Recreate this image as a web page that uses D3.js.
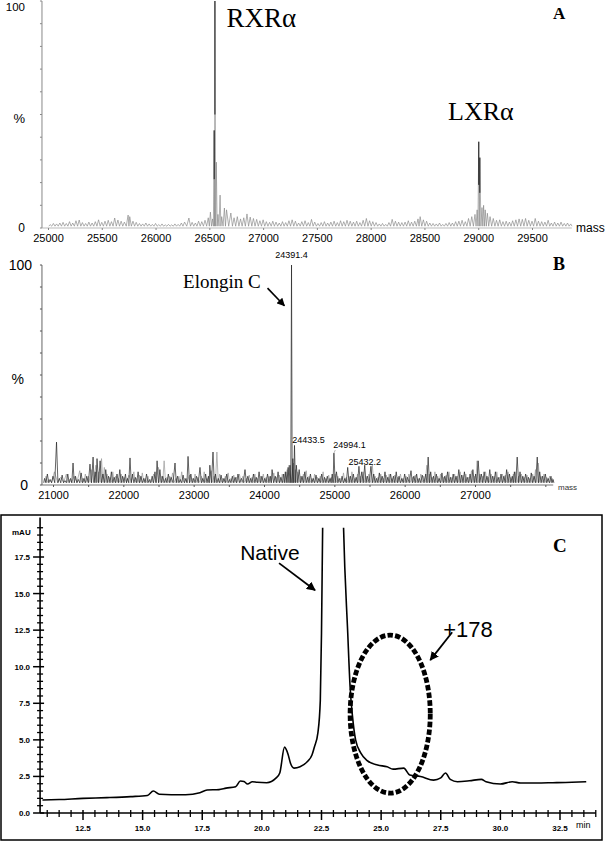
<!DOCTYPE html>
<html><head><meta charset="utf-8">
<script src="https://cdn.jsdelivr.net/npm/d3@7"></script>
<style>body{margin:0;background:#fff}svg{display:block}</style>
</head><body>
<svg id="chart" width="608" height="841"></svg>
<script>
// ---------- Panel A data (deconvoluted ESI-MS, RXRα / LXRα) ----------
const aMass = [25020,25050,25080,25110,25140,25170,25200,25230,25260,25290,25320,25350,25380,25410,25440,25470,25500,25530,25560,25590,25620,25650,25680,25710,25745,25760,25790,25820,25850,25880,25910,25940,25970,26000,26030,26060,26090,26120,26150,26180,26210,26240,26270,26310,26340,26370,26400,26430,26460,26490,26510,26530,26545,26552,26565,26580,26600,26615,26640,26660,26700,26730,26760,26790,26820,26850,26880,26910,26940,26970,27000,27030,27060,27090,27120,27150,27180,27210,27240,27270,27300,27330,27360,27390,27420,27450,27480,27510,27540,27570,27600,27630,27660,27690,27720,27750,27780,27810,27840,27870,27900,27930,27960,27990,28020,28050,28080,28110,28140,28170,28200,28230,28260,28290,28320,28350,28380,28410,28440,28460,28490,28520,28550,28580,28610,28640,28670,28700,28730,28760,28790,28820,28850,28880,28910,28940,28970,28990,29005,29015,29035,29050,29065,29085,29110,29140,29170,29200,29230,29260,29290,29320,29350,29380,29410,29440,29470,29500,29530,29560,29590,29620,29650,29680,29710,29740,29770,29800,29830,29860];
const aInt  = [1.5,2,1.8,2.2,2.5,2,2.8,2.2,3.2,3.5,2.4,2.0,2.6,2.2,2.8,3.6,2.5,3.0,3.4,2.8,4.4,3.5,3.0,2.6,5.7,5.0,3.0,2.5,2.0,1.8,2.2,1.8,1.6,2.0,1.5,1.8,1.4,1.6,1.4,1.8,1.6,2.2,2.6,4.4,2.5,2.2,3.0,2.8,3.4,4.5,7.0,4.0,43,100,29,6,14.5,5,8.8,8,6.6,4.5,5.0,4.0,4.5,6.2,4.8,4.2,3.8,3.2,3.6,2.8,2.5,3.0,2.6,2.2,2.8,2.4,3.2,3.6,3.0,2.2,2.8,3.2,2.4,3.8,2.6,2.0,2.4,2.8,2.2,2.6,3.0,2.4,3.2,2.8,3.4,3.0,2.6,3.0,2.4,3.4,4.2,3.2,2.8,2.4,1.8,2.0,1.6,2.4,3.8,3.0,2.6,2.4,2.6,3.2,2.6,3.0,4.0,5.0,3.6,3.0,2.2,2.0,1.8,2.2,1.6,2.0,2.4,2.2,2.8,3.0,3.4,2.8,4.2,5.0,6.0,8.0,38,31,9,10,8,6.5,5.0,4.2,3.4,3.6,2.8,3.0,2.6,3.2,3.6,4.0,3.8,4.2,3.4,3.0,4.2,3.0,2.8,2.6,3.4,2.2,2.6,2.2,2.6,2.0,2.2,1.8];
const aTicks = [25000,25500,26000,26500,27000,27500,28000,28500,29000,29500];
const aAxisRange = [24944, 29870];

// ---------- Panel B data (Elongin C) ----------
const bMass = [20880,20920,20960,21000,21050,21090,21130,21170,21210,21250,21285,21320,21360,21400,21440,21480,21526,21570,21600,21626,21670,21710,21750,21790,21830,21870,21910,21950,21990,22030,22060,22095,22130,22170,22210,22250,22290,22330,22370,22410,22450,22480,22520,22560,22600,22640,22680,22735,22770,22810,22850,22890,22920,22960,23000,23040,23090,23130,23170,23210,23230,23275,23310,23350,23390,23430,23470,23510,23550,23590,23630,23680,23730,23770,23810,23850,23890,23930,23970,24010,24050,24090,24115,24160,24200,24240,24280,24310,24343,24370,24391.4,24410,24433.5,24460,24500,24540,24580,24620,24660,24700,24740,24780,24820,24860,24900,24940,24970,24994.1,25030,25070,25110,25150,25190,25230,25270,25310,25350,25390,25432.2,25470,25520,25560,25600,25640,25680,25720,25760,25800,25840,25880,25920,25960,26000,26040,26090,26130,26170,26210,26250,26300,26334,26370,26410,26450,26490,26530,26570,26610,26650,26690,26730,26770,26810,26850,26890,26930,26970,27010,27045,27090,27130,27170,27210,27250,27290,27330,27370,27410,27450,27490,27530,27560,27600,27640,27680,27720,27760,27800,27840,27885,27920,27960,28000,28040,28080,28110];
const bInt  = [3,5,2.5,4,19.5,3,4.5,2,5,3,10,4,2.5,5.5,3,4,9.5,12.7,6,12,11,5,7,4,6,3.5,5,7,4,5,3,12.3,5,3.5,6,4,3,5,2.5,4,6,11,7,4,3,5,3.5,10,4,2.5,4.5,3,13,5,3,4,8,3,5,4,9,15,5,3,4.5,3,5,2.5,4,3.5,5,3,7,4,3,5,3.5,6,4,3,5,4,7,4,6,3.5,5,6,8,9,100,12,18,9,7,4,6,3.5,5,3,4.5,3,5,3.5,4,3,5,14.5,6,3,4,3,8,4,5,3.5,8.5,6,9,4,8.5,5,3,5.5,4,6,3.5,5,4,6,4,3,5,3.5,6.5,4,5,3,4.5,5,12.7,6,4,5,3,5.5,4,6,3.5,5,4,7,4.5,6,3.5,5,7,5,11,5,6,4,7,4,6,3.5,5,4,7,5,4,6,12.7,6,4,5,3.5,5.5,4,12.7,6,4,5,3,4,2.5];
// second (grey) trace overlaid in the reference
const bGray = [[20900,4],[20940,2.5],[21020,6],[21110,3.5],[21190,5],[21230,2.5],[21300,4],[21380,6.5],[21420,3],[21460,5],[21505,4],[21550,7],[21610,9],[21650,6],[21690,12],[21730,8],[21770,5],[21810,3.5],[21850,6],[21890,4],[21930,3],[21970,5],[22010,3.5],[22080,4.5],[22150,6],[22190,3],[22230,4.5],[22270,5.5],[22310,3],[22350,4],[22390,2.5],[22430,5],[22500,8],[22540,4],[22580,11],[22620,3.5],[22660,4],[22700,5.5],[22750,3],[22790,4],[22830,6],[22870,3],[22940,4.5],[22980,3],[23020,5],[23060,3.5],[23110,4],[23150,6],[23190,3],[23250,6.5],[23290,4],[23330,15],[23370,5],[23410,3],[23450,4],[23490,5.5],[23530,3],[23570,4.5],[23610,3.5],[23650,5],[23700,4],[23750,3],[23790,4.5],[23830,3.5],[23870,5],[23910,3],[23950,4],[23990,5],[24030,3.5],[24070,4],[24140,5.5],[24180,3.5],[24220,4.5],[24260,5],[24300,6],[24330,7],[24355,9],[24420,10],[24445,7],[24480,6],[24520,4],[24560,5],[24600,6.5],[24640,4],[24680,3],[24720,5],[24760,3.5],[24800,4],[24840,6],[24880,3],[24920,4.5],[24955,3.5],[25010,5],[25050,4],[25090,3],[25130,5.5],[25170,3.5],[25210,4],[25250,6],[25290,3],[25330,5],[25370,4],[25410,6],[25450,4],[25490,5],[25540,9],[25580,4],[25620,3.5],[25660,5],[25700,3],[25740,4.5],[25780,5],[25820,3],[25860,4.5],[25900,3.5],[25940,5],[25980,3],[26020,4],[26060,5],[26110,3.5],[26150,4.5],[26190,3],[26230,5],[26270,4],[26315,9],[26350,5],[26390,3.5],[26430,6],[26470,4],[26510,5],[26550,3.5],[26590,4.5],[26630,6],[26670,3.5],[26710,5],[26750,4],[26790,6],[26830,4.5],[26870,5],[26910,3.5],[26950,6.5],[26990,4],[27030,11],[27070,5],[27110,4],[27150,6],[27190,3.5],[27230,5],[27270,4],[27310,6],[27350,3.5],[27390,5],[27430,4.5],[27470,6],[27510,3.5],[27545,5],[27580,6],[27620,4],[27660,5],[27700,3.5],[27740,4.5],[27780,3],[27820,5],[27860,7],[27900,10],[27940,4],[27980,5],[28020,3.5],[28060,4],[28100,3]];
const bTicks = [21000,22000,23000,24000,25000,26000,27000];
const bAxisRange = [20843, 28112];
const bPeakLabels = [
  {mass:24391.4, text:"24391.4", lx:24391.4, ly:103, anchor:"middle"},
  {mass:24433.5, text:"24433.5", lx:24400, ly:19, anchor:"start"},
  {mass:24994.1, text:"24994.1", lx:24985, ly:16.8, anchor:"start"},
  {mass:25432.2, text:"25432.2", lx:25200, ly:9, anchor:"start"}
];

// ---------- Panel C data (HPLC trace) ----------
const cTime = [10.8,11.5,12.5,13.5,14.5,15.2,15.45,15.7,16.2,16.8,17.4,17.7,18.2,18.5,18.9,19.1,19.25,19.4,19.6,19.8,20.2,20.6,20.75,20.95,21.1,21.2,21.35,21.6,21.9,22.1,22.2,22.35,22.45,22.5,22.55,22.7,23.0,23.3,23.42,23.6,23.7,23.8,23.93,24.15,24.4,24.85,25.25,25.5,25.95,26.2,26.65,27.2,27.5,27.7,27.9,28.2,28.7,29.2,29.4,30.0,30.5,30.85,31.5,32.2,33.0,33.6];
const cAbs  = [0.89,0.92,1.0,1.05,1.12,1.2,1.5,1.28,1.25,1.25,1.39,1.57,1.6,1.7,1.8,2.19,2.15,1.98,2.14,2.1,2.07,2.4,2.73,4.5,4.0,3.4,3.07,3.16,3.5,3.96,4.5,5.5,7.7,12.3,19.8,30,40,30,19.8,12.3,8.6,6.6,5.0,4.1,3.6,3.28,3.16,3.0,3.07,2.6,2.5,2.25,2.4,2.73,2.3,2.14,2.2,2.3,2.14,1.98,2.14,2.05,2.05,2.07,2.1,2.14];
const cXTicks = [12.5,15.0,17.5,20.0,22.5,25.0,27.5,30.0,32.5];
const cYTicks = [0.0,2.5,5.0,7.5,10.0,12.5,15.0,17.5];
const cXRange = [10.7, 34.0];
const cYRange = [0, 20.2];
const cSaturation = 19.5;

// ---------- drawing ----------
const SANS = "'Liberation Sans', Arial, Helvetica, sans-serif";
const SERIF = "'Liberation Serif', 'Times New Roman', serif";
const svg = d3.select("#chart");

const defs = svg.append("defs");
defs.append("marker").attr("id","arr").attr("viewBox","0 0 10 10").attr("refX",9).attr("refY",5)
  .attr("markerWidth",5).attr("markerHeight",5).attr("orient","auto")
  .append("path").attr("d","M0,0 L10,5 L0,10 z").attr("fill","#000");

function profilePath(ms, hs, base, x, y) {
  const pts = [[ms[0]-12, base]];
  for (let i = 0; i < ms.length; i++) {
    pts.push([ms[i], hs[i]]);
    if (i < ms.length - 1) pts.push([(ms[i] + ms[i+1]) / 2, base]);
  }
  pts.push([ms[ms.length-1] + 12, base]);
  return d3.line().x(d => x(d[0])).y(d => y(d[1]))(pts);
}

// ===== Panel A =====
{
  const x = d3.scaleLinear().domain([25000, 29500]).range([48, 532]);
  const y = d3.scaleLinear().domain([0, 100]).range([228, 1]);
  const g = svg.append("g");
  const x0 = x(aAxisRange[0]);
  g.append("line").attr("x1",x0).attr("x2",x0).attr("y1",y(0)).attr("y2",y(100)).attr("stroke","#888").attr("stroke-width",1);
  g.selectAll(".yt").data(d3.range(0,101,10)).join("line")
    .attr("x1",x0-2).attr("x2",x0).attr("y1",d=>y(d)).attr("y2",d=>y(d)).attr("stroke","#888");
  g.append("line").attr("x1",x0).attr("x2",x(aAxisRange[1])).attr("y1",y(0)).attr("y2",y(0)).attr("stroke","#aaa").attr("stroke-width",0.8);
  const ax = g.append("g").attr("transform",`translate(0,${y(0)})`)
    .call(d3.axisBottom(x).tickValues(aTicks).tickSize(2).tickPadding(4).tickFormat(d3.format("d")));
  ax.select(".domain").remove();
  ax.selectAll("line").attr("stroke","#888");
  ax.selectAll("text").attr("font-family",SANS).attr("font-size",11).attr("fill","#000");
  g.append("path").attr("d",profilePath(aMass,aInt,0.8,x,y)).attr("fill","none").attr("stroke","#858585").attr("stroke-width",0.65);
  const major = aMass.map((m,i)=>({m,h:aInt[i]})).filter(d=>d.h>30);
  g.selectAll(".mp").data(major).join("line")
    .attr("x1",d=>x(d.m)).attr("x2",d=>x(d.m)).attr("y1",d=>y(d.h)).attr("y2",d=>y(d.h*0.5)).attr("stroke","#111").attr("stroke-width",0.9);
  g.append("text").attr("x",25).attr("y",11).attr("text-anchor","end").attr("font-family",SANS).attr("font-size",11.5).text("100");
  g.append("text").attr("x",25).attr("y",y(0)+4).attr("text-anchor","end").attr("font-family",SANS).attr("font-size",12).text("0");
  g.append("text").attr("x",25).attr("y",y(48)+4).attr("text-anchor","end").attr("font-family",SANS).attr("font-size",13).text("%");
  g.append("text").attr("x",576).attr("y",y(0)+4).attr("font-family",SANS).attr("font-size",12).text("mass");
  g.append("text").attr("x",x(26660)).attr("y",y(88.5)).attr("font-family",SERIF).attr("font-size",27).text("RXRα");
  g.append("text").attr("x",x(28720)).attr("y",y(47.5)).attr("font-family",SERIF).attr("font-size",26).text("LXRα");
  g.append("text").attr("x",553).attr("y",19).attr("font-family",SERIF).attr("font-weight","bold").attr("font-size",17).text("A");
}

// ===== Panel B =====
{
  const x = d3.scaleLinear().domain([21000, 27000]).range([53, 475]);
  const y = d3.scaleLinear().domain([0, 100]).range([485, 265]);
  const g = svg.append("g");
  const x0 = x(bAxisRange[0]);
  g.append("line").attr("x1",x0).attr("x2",x0).attr("y1",y(0)).attr("y2",y(100)).attr("stroke","#555").attr("stroke-width",0.9);
  g.selectAll(".yt").data(d3.range(0,101,10)).join("line")
    .attr("x1",x0-2).attr("x2",x0).attr("y1",d=>y(d)).attr("y2",d=>y(d)).attr("stroke","#555");
  g.append("line").attr("x1",x0).attr("x2",x(bAxisRange[1])).attr("y1",y(0)).attr("y2",y(0)).attr("stroke","#555").attr("stroke-width",0.8);
  const ax = g.append("g").attr("transform",`translate(0,${y(0)})`)
    .call(d3.axisBottom(x).tickValues(d3.range(21000,28001,500)).tickSize(2).tickPadding(4)
      .tickFormat(d => bTicks.includes(d) ? d3.format("d")(d) : ""));
  ax.select(".domain").remove();
  ax.selectAll("line").attr("stroke","#555");
  ax.selectAll("text").attr("font-family",SANS).attr("font-size",11).attr("fill","#000");
  g.append("path").attr("d",profilePath(bGray.map(d=>d[0]),bGray.map(d=>d[1]),1.2,x,y)).attr("fill","none").attr("stroke","#9a9a9a").attr("stroke-width",0.7);
  g.append("path").attr("d",profilePath(bMass,bInt,1.0,x,y)).attr("fill","none").attr("stroke","#222").attr("stroke-width",0.7);
  g.append("text").attr("x",32).attr("y",y(100)+5).attr("text-anchor","end").attr("font-family",SANS).attr("font-size",14).text("100");
  g.append("text").attr("x",28).attr("y",y(0)+5).attr("text-anchor","end").attr("font-family",SANS).attr("font-size",14).text("0");
  g.append("text").attr("x",24).attr("y",y(48)+5).attr("text-anchor","end").attr("font-family",SANS).attr("font-size",14).text("%");
  g.append("text").attr("x",558).attr("y",y(0)+5).attr("font-family",SANS).attr("font-size",8).attr("fill","#333").text("mass");
  g.selectAll(".pl").data(bPeakLabels).join("text")
    .attr("x",d=>x(d.lx)).attr("y",d=>y(d.ly)).attr("text-anchor",d=>d.anchor)
    .attr("font-family",SANS).attr("font-size",9).text(d=>d.text);
  const leaders = bPeakLabels.filter(d=>d.anchor==="start" && d.text!=="25432.2");
  g.selectAll(".ld").data(leaders).join("line")
    .attr("x1",d=>x(d.lx)+2).attr("y1",d=>y(d.ly)+2).attr("x2",d=>x(d.mass)).attr("y2",d=>y(bInt[bMass.indexOf(d.mass)]))
    .attr("stroke","#888").attr("stroke-width",0.6);
  g.append("text").attr("x",x(22850)).attr("y",y(89.5)).attr("font-family",SERIF).attr("font-size",19).text("Elongin C");
  g.append("line").attr("x1",x(24050)).attr("y1",y(89.5)).attr("x2",x(24290)).attr("y2",y(81.5))
    .attr("stroke","#000").attr("stroke-width",1.6).attr("marker-end","url(#arr)");
  g.append("text").attr("x",553).attr("y",270).attr("font-family",SERIF).attr("font-weight","bold").attr("font-size",18).text("B");
}

// ===== Panel C =====
{
  const x = d3.scaleLinear().domain([12.5, 32.5]).range([83, 560]);
  const y = d3.scaleLinear().domain([0, 17.5]).range([813, 557]);
  const g = svg.append("g");
  g.append("rect").attr("x",1).attr("y",515).attr("width",601).attr("height",325)
    .attr("fill","none").attr("stroke","#000").attr("stroke-width",1.5);
  const xa = x(cXRange[0]), ya = y(0);
  g.append("line").attr("x1",xa).attr("x2",xa).attr("y1",ya).attr("y2",y(cYRange[1])).attr("stroke","#000").attr("stroke-width",1.6);
  g.append("line").attr("x1",xa).attr("x2",x(cXRange[1])).attr("y1",ya).attr("y2",ya).attr("stroke","#000").attr("stroke-width",1.6);
  const yMinor = d3.range(0.5, 20.01, 0.5).filter(v => Math.abs(v/2.5 - Math.round(v/2.5)) > 1e-6);
  g.selectAll(".ym").data(yMinor).join("line")
    .attr("x1",xa-3).attr("x2",xa+3).attr("y1",d=>y(d)).attr("y2",d=>y(d)).attr("stroke","#000").attr("stroke-width",1.3);
  g.selectAll(".yM").data(cYTicks).join("line")
    .attr("x1",xa-7).attr("x2",xa+4).attr("y1",d=>y(d)).attr("y2",d=>y(d)).attr("stroke","#000").attr("stroke-width",1.5);
  g.selectAll(".yl").data(cYTicks).join("text")
    .attr("x",xa-10).attr("y",d=>y(d)+3).attr("text-anchor","end")
    .attr("font-family",SANS).attr("font-weight","bold").attr("font-size",8).text(d=>d3.format(".1f")(d));
  const xMinor = d3.range(11.0, 34.01, 0.5).filter(v => !cXTicks.some(t => Math.abs(t - v) < 1e-6));
  g.selectAll(".xm").data(xMinor).join("line")
    .attr("x1",d=>x(d)).attr("x2",d=>x(d)).attr("y1",ya-3).attr("y2",ya+4).attr("stroke","#000").attr("stroke-width",1.3);
  g.selectAll(".xM").data(cXTicks).join("line")
    .attr("x1",d=>x(d)).attr("x2",d=>x(d)).attr("y1",ya-3).attr("y2",ya+7).attr("stroke","#000").attr("stroke-width",1.5);
  g.selectAll(".xl").data(cXTicks).join("text")
    .attr("x",d=>x(d)).attr("y",ya+18).attr("text-anchor","middle")
    .attr("font-family",SANS).attr("font-weight","bold").attr("font-size",8).text(d=>d3.format(".1f")(d));
  g.append("text").attr("x",12).attr("y",y(19.0)).attr("font-family",SANS).attr("font-weight","bold").attr("font-size",8).text("mAU");
  g.append("text").attr("x",576).attr("y",ya+15).attr("font-family",SANS).attr("font-size",9).text("min");
  defs.append("clipPath").attr("id","cclip").append("rect")
    .attr("x",xa).attr("y",y(cSaturation)).attr("width",x(cXRange[1])-xa).attr("height",ya-y(cSaturation)+5);
  const line = d3.line().x((d,i)=>x(cTime[i])).y(d=>y(d)).curve(d3.curveMonotoneX);
  g.append("path").attr("d",line(cAbs)).attr("clip-path","url(#cclip)")
    .attr("fill","none").attr("stroke","#000").attr("stroke-width",1.6);
  g.append("ellipse").attr("cx",x(25.38)).attr("cy",y(6.76))
    .attr("rx",x(25.38+1.68)-x(25.38)).attr("ry",y(0)-y(5.4))
    .attr("fill","none").attr("stroke","#000").attr("stroke-width",4.8).attr("stroke-dasharray","5.5 2.2");
  g.append("text").attr("x",x(19.09)).attr("y",y(17.3)).attr("font-family",SANS).attr("font-size",21).text("Native");
  g.append("line").attr("x1",x(20.72)).attr("y1",y(17.08)).attr("x2",x(22.23)).attr("y2",y(15.23))
    .attr("stroke","#000").attr("stroke-width",1.8).attr("marker-end","url(#arr)");
  g.append("text").attr("x",x(27.6)).attr("y",y(12.0)).attr("font-family",SANS).attr("font-size",22).text("+178");
  g.append("line").attr("x1",x(27.98)).attr("y1",y(12.36)).attr("x2",x(27.06)).attr("y2",y(10.45))
    .attr("stroke","#000").attr("stroke-width",1.8).attr("marker-end","url(#arr)");
  g.append("text").attr("x",553).attr("y",552).attr("font-family",SERIF).attr("font-weight","bold").attr("font-size",19).text("C");
}
</script>
</body></html>
